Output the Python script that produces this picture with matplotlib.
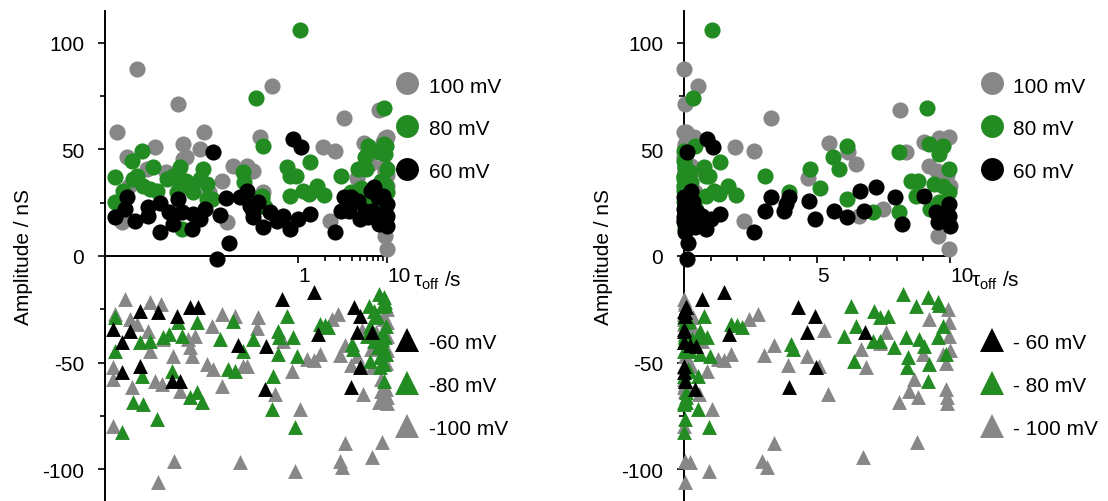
import matplotlib.pyplot as plt
import matplotlib.transforms as mtransforms
from matplotlib.lines import Line2D
from matplotlib.ticker import NullFormatter

plt.rcParams['font.family'] = ['Liberation Sans', 'DejaVu Sans']
plt.rcParams['mathtext.fontset'] = 'custom'
plt.rcParams['mathtext.rm'] = 'Liberation Sans'
plt.rcParams['mathtext.it'] = 'Liberation Sans:italic'
plt.rcParams['axes.unicode_minus'] = False

GRAY = '#878787'
GREEN = '#228b22'
BLACK = '#000000'

# tau_off (s) and amplitude (nS) for each holding potential
tau_p100 = [0.0093, 0.0156, 0.012, 0.0105, 0.025, 0.045, 0.051, 0.051, 0.079, 0.088,
            0.033, 0.186, 0.27, 0.31, 0.16, 0.37, 0.51, 0.68, 0.055, 0.0125,
            0.02, 0.06, 0.1, 0.14, 0.4, 1.92, 2.63, 2.26, 3.27, 4.66,
            5.46, 6.16, 6.47, 6.58, 7.48, 8.12, 8.35, 9.02, 9.2, 9.55,
            9.6, 9.96, 9.96, 9.9, 10.0, 9.5]
amp_p100 = [58, 87.7, 46.4, 16, 51, 71.3, 52.5, 45.5, 50.2, 58,
            39.4, 42.2, 42.2, 39.8, 16, 55.8, 79.7, 18, 46.4, 33,
            41, 32, 30, 35, 30, 51, 49.4, 16.6, 64.6, 36.5,
            53, 48.8, 43.1, 18.9, 22, 68.4, 48.8, 53.6, 42.3, 9.5,
            55.6, 56, 3.3, 38, 33, 40]

tau_p80 = [0.0088, 0.0088, 0.0108, 0.0137, 0.0176, 0.014, 0.018, 0.0235, 0.026, 0.034,
           0.039, 0.047, 0.047, 0.05, 0.055, 0.066, 0.085, 0.095, 0.095, 0.079,
           0.0156, 0.022, 0.044, 0.107, 0.24, 0.25, 0.337, 0.39, 0.405, 0.43,
           0.75, 0.81, 0.95, 0.81, 0.39, 1.05, 1.37, 1.14, 1.32, 1.64,
           1.95, 3.05, 3.95, 4.74, 5.1, 5.6, 5.83, 6.13, 6.13, 7.1,
           8.08, 8.08, 8.53, 8.8, 8.72, 9.14, 9.2, 9.6, 9.74, 9.96,
           9.4, 9.74, 9.96, 9.6, 9.25]
amp_p80 = [37, 25.3, 30.5, 44.5, 49.2, 36, 32.8, 41.7, 30.5, 36,
           37.5, 41.7, 32.8, 12.7, 35.2, 30, 40.8, 33.8, 26.7, 36,
           37.5, 31.4, 30, 26.7, 39.4, 34.7, 74, 28.1, 51.6, 23,
           41.7, 37.5, 37.7, 28.1, 26.7, 106, 44.3, 30.5, 29, 33,
           28.6, 37.5, 30, 40.8, 31.9, 46.4, 40.8, 51.7, 26.7, 20.8,
           48.8, 20.8, 35.3, 35.3, 28.3, 69.5, 52.5, 47.8, 51.7, 40.8,
           34, 33, 30, 25.5, 22]

tau_p60 = [0.0088, 0.012, 0.0147, 0.0113, 0.0207, 0.0207, 0.028, 0.028, 0.036, 0.039,
           0.045, 0.05, 0.064, 0.066, 0.079, 0.09, 0.111, 0.123, 0.133, 0.155,
           0.168, 0.223, 0.267, 0.29, 0.31, 0.355, 0.31, 0.405, 0.485, 0.58,
           0.68, 0.81, 0.88, 1.08, 1.0, 1.36, 2.63, 3.05, 3.27, 3.76,
           3.83, 3.95, 4.7, 4.92, 5.64, 6.13, 6.6, 6.77, 7.22, 7.93,
           8.2, 9.02, 9.47, 9.55, 9.7, 9.96, 9.96, 10.0]
amp_p60 = [18.3, 27.7, 16.4, 22, 23, 18.6, 11.2, 25, 20.6, 15,
           26.7, 20.6, 12.7, 19.7, 17.3, 22, 48.8, -1.4, 19.2, 27.2,
           6.1, 27.7, 30.5, 23.4, 20.6, 25.3, 18.3, 13.6, 20.6, 16.4,
           18.8, 12.7, 54.8, 51, 17.3, 19.7, 11.4, 21.2, 27.8, 21.2,
           24.4, 27.6, 25.9, 17.3, 21.2, 18.4, 30.6, 21.2, 32.3, 27.6,
           15, 28, 20.6, 15.9, 18, 24.4, 18.9, 14.2]

tau_m100 = [0.0113, 0.0088, 0.0129, 0.0156, 0.0217, 0.029, 0.0207, 0.0217, 0.0083, 0.0083,
            0.0137, 0.0083, 0.025, 0.03, 0.039, 0.047, 0.04, 0.027, 0.061, 0.064,
            0.095, 0.111, 0.14, 0.14, 0.108, 0.196, 0.223, 0.24, 0.0305, 0.058,
            0.07, 0.355, 0.345, 0.27, 0.68, 0.86, 1.05, 0.925, 1.26, 1.5,
            1.77, 0.55, 2.44, 2.78, 3.0, 3.38, 3.38, 2.93, 3.11, 3.9,
            4.61, 5.07, 5.25, 5.4, 6.72, 6.65, 6.84, 7.6, 7.35, 8.76,
            8.08, 8.46, 8.78, 8.65, 9.0, 9.2, 9.91, 9.96, 9.96, 10.0,
            9.85, 9.85, 9.9, 9.9, 9.74]
amp_m100 = [-20, -27.2, -29.5, -31.9, -21.6, -22.5, -35, -44.5, -52, -57.7,
            -61.4, -79.7, -58.6, -60, -47, -63.3, -96, -106, -42.7, -47,
            -50.6, -53, -61, -27.2, -33, -28, -96.6, -51.4, -39, -39,
            -37.5, -28.6, -34, -51.4, -39.8, -53.9, -71.7, -101, -48.3, -49,
            -46, -64.7, -29.5, -27.2, -46.4, -42, -88, -96.4, -99, -51,
            -47, -51.4, -34.7, -64.7, -94.4, -43.6, -52.2, -35.8, -41, -87.4,
            -68.6, -63.2, -66.3, -57.7, -46, -29.5, -24.8, -31, -37.5, -44,
            -50, -62.3, -66, -69, -46]

tau_m80 = [0.0088, 0.0088, 0.0105, 0.014, 0.018, 0.0176, 0.0167, 0.0217, 0.026, 0.0305,
           0.036, 0.038, 0.045, 0.05, 0.073, 0.061, 0.073, 0.083, 0.164, 0.186,
           0.196, 0.24, 0.31, 0.133, 0.51, 0.52, 0.6, 0.6, 0.75, 0.925,
           0.97, 0.88, 0.62, 1.77, 2.17, 2.0, 4.02, 4.1, 6.28, 6.0,
           6.47, 6.4, 7.15, 7.37, 7.67, 7.1, 7.37, 7.9, 8.23, 8.35,
           8.42, 8.4, 8.72, 8.83, 9.02, 9.17, 9.2, 9.17, 9.55, 9.6,
           9.74, 9.55, 9.85]
amp_m80 = [-28.6, -44.5, -82.5, -68.4, -69.4, -56.3, -40.4, -39.8, -76.4, -38,
           -36.6, -53.9, -31, -37.5, -31, -66, -63.8, -68.4, -53, -30.5,
           -53.9, -44.5, -38.9, -38.9, -71.7, -56.3, -35, -46, -28, -80.2,
           -46.9, -38, -38, -31.9, -33.3, -32.5, -41.3, -43.5, -23.3, -37.4,
           -32.7, -49.1, -25.6, -28.6, -28, -39.7, -39.7, -42.7, -17.8, -38,
           -47.4, -52, -23.3, -39, -42.2, -19.4, -50.6, -58.5, -21.7, -23,
           -32.7, -38, -46]

tau_m60 = [0.0083, 0.0105, 0.0129, 0.0167, 0.0105, 0.0167, 0.027, 0.044, 0.061, 0.075,
           0.038, 0.047, 0.212, 0.437, 0.425, 0.66, 1.5, 1.68, 4.27, 4.93,
           4.62, 6.8, 4.96, 3.95]
amp_m60 = [-34.2, -40.4, -35, -51.4, -54.4, -25.8, -26.2, -28, -24, -24,
           -58.6, -58.6, -41.7, -42.2, -62.3, -20.2, -17, -36.6, -24, -28,
           -35.5, -35.5, -52, -61.4]

pos_labels = ['100 mV', '80 mV', '60 mV']
neg_labels_left = ['-60 mV', '-80 mV', '-100 mV']
neg_labels_right = ['- 60 mV', '- 80 mV', '- 100 mV']

FS = 15
fig = plt.figure(figsize=(11.08, 5.02), dpi=100)
ax1 = fig.add_axes([105 / 1108, 0, 283 / 1108, 490 / 502])
ax2 = fig.add_axes([684 / 1108, 0, 266 / 1108, 490 / 502])


def draw(ax):
    kw = dict(linewidths=0, clip_on=False, zorder=3)
    ax.scatter(tau_p100, amp_p100, s=135, c=GRAY, marker='o', **kw)
    ax.scatter(tau_p80, amp_p80, s=135, c=GREEN, marker='o', **kw)
    ax.scatter(tau_p60, amp_p60, s=135, c=BLACK, marker='o', **kw)
    ax.scatter(tau_m100, amp_m100, s=115, c=GRAY, marker='^', **kw)
    ax.scatter(tau_m80, amp_m80, s=115, c=GREEN, marker='^', **kw)
    ax.scatter(tau_m60, amp_m60, s=115, c=BLACK, marker='^', **kw)

    ax.set_ylim(-115, 115)
    ax.spines['top'].set_visible(False)
    ax.spines['right'].set_visible(False)
    ax.spines['bottom'].set_position(('data', 0))
    for side in ['left', 'bottom']:
        ax.spines[side].set_linewidth(1.4)
    ax.set_yticks([-100, -50, 0, 50, 100])
    ax.set_yticks([-75, -25, 25, 75], minor=True)
    ax.tick_params(axis='y', which='major', length=5, width=1.2, pad=10, labelsize=FS)
    ax.tick_params(axis='y', which='minor', length=3.5, width=1.2)
    ax.tick_params(axis='x', which='major', length=5, width=1.2, pad=2, labelsize=FS)
    ax.tick_params(axis='x', which='minor', length=3.5, width=1.2)
    ax.set_ylabel('Amplitude / nS', fontsize=FS)


def legends(ax, xpos, neg_labels):
    ph = [Line2D([], [], ls='none', marker='o', color=c, markersize=16.5, markeredgewidth=0)
          for c in [GRAY, GREEN, BLACK]]
    nh = [Line2D([], [], ls='none', marker='^', color=c, markersize=17, markeredgewidth=0)
          for c in [BLACK, GREEN, GRAY]]
    common = dict(loc='center left', frameon=False, fontsize=FS, handlelength=1.0,
                  handleheight=1.0, handletextpad=0.55, labelspacing=1.07,
                  borderpad=0, borderaxespad=0)
    leg1 = ax.legend(ph, pos_labels, bbox_to_anchor=(xpos, 0.761), **common)
    ax.add_artist(leg1)
    ax.legend(nh, neg_labels, bbox_to_anchor=(xpos, 0.237), **common)


draw(ax1)
ax1.set_xscale('log')
ax1.set_xlim(0.0068, 10.26)
ax1.set_xticks([1, 10], ['1', '10'], ha='left')
ax1.set_xticks([2, 3, 4, 5, 6, 7, 8, 9], minor=True)
ax1.xaxis.set_minor_formatter(NullFormatter())
ax1.yaxis.set_label_coords(-0.254, 0.5)
legends(ax1, 1.03, neg_labels_left)

draw(ax2)
ax2.set_xlim(0, 10)
ax2.set_xticks([5, 10], ['5', '10'], ha='left')
ax2.set_xticks([1, 2, 3, 4, 6, 7, 8, 9], minor=True)
ax2.yaxis.set_label_coords(-0.267, 0.5)
legends(ax2, 1.117, neg_labels_right)

xlab = r'$\mathrm{\tau_{off}}$ /s'
for ax, xp in [(ax1, 1.09), (ax2, 1.08)]:
    tr = mtransforms.blended_transform_factory(ax.transAxes, ax.transData)
    ax.text(xp, -14, xlab, transform=tr, ha='left', va='baseline', fontsize=FS)

fig.savefig('out.png', dpi=100)
